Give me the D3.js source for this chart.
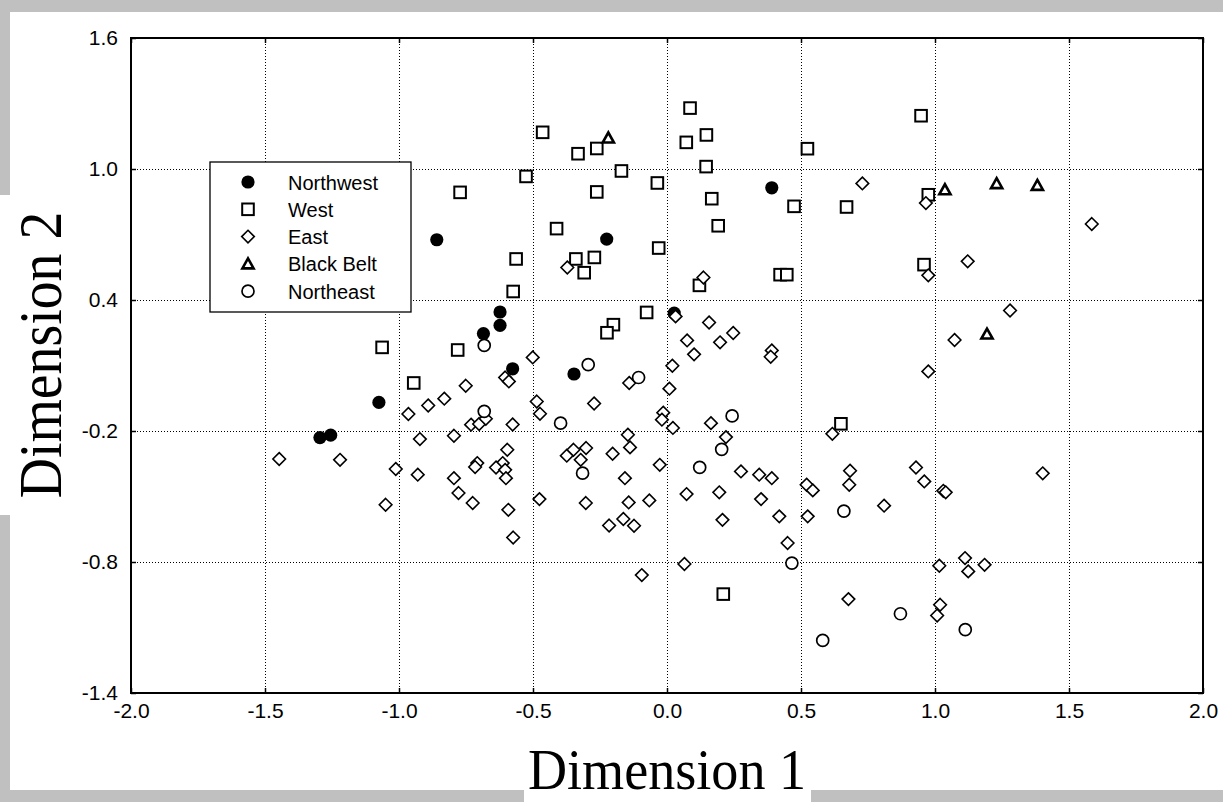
<!DOCTYPE html>
<html><head><meta charset="utf-8">
<script src="https://cdn.jsdelivr.net/npm/d3@7"></script>
<style>html,body{margin:0;padding:0;background:#c0c0c0;overflow:hidden}</style>
</head><body>
<script>
// ---- data ----
const xTicks = [-2.0,-1.5,-1.0,-0.5,0.0,0.5,1.0,1.5,2.0];
const yTicks = [-1.4,-0.8,-0.2,0.4,1.0,1.6];
const groupNames = ["Northwest","West","East","Black Belt","Northeast"];

const northwestX = [-1.295,-1.255,-1.075,-0.859,-0.685,-0.623,-0.623,-0.576,-0.347,-0.225,0.391,0.027];
const northwestY = [-0.230,-0.219,-0.069,0.676,0.246,0.284,0.345,0.085,0.061,0.679,0.914,0.340];

const westX = [-0.464,-0.332,-0.262,-0.526,-0.170,-0.036,-0.262,0.086,0.072,0.147,0.146,0.167,0.191,0.474,0.524,0.670,-0.412,-0.031,
  -0.563,-0.340,-0.271,-0.309,-0.574,-0.076,-0.200,-0.224,0.121,0.422,0.447,0.649,-0.772,0.948,0.975,0.959,-1.063,-0.781,-0.945,0.210];
const westY = [1.168,1.070,1.094,0.966,0.991,0.936,0.895,1.279,1.122,1.156,1.011,0.864,0.740,0.829,1.093,0.826,0.727,0.638,
  0.588,0.588,0.595,0.525,0.439,0.343,0.287,0.250,0.467,0.516,0.516,-0.167,0.893,1.244,0.882,0.562,0.183,0.171,0.020,-0.947];

const eastX = [0.729,0.966,1.585,1.122,0.975,1.280,1.073,0.975,0.929,0.960,1.402,
  -0.751,-0.831,-0.891,-0.965,-0.795,-0.922,-0.731,-0.701,-0.676,-1.447,-1.220,-1.012,-0.930,-0.795,-0.708,-0.716,
  -0.372,0.136,0.032,0.157,0.247,0.075,0.198,0.101,0.391,0.387,-0.501,0.020,-0.604,-0.590,-0.141,0.009,-0.486,-0.474,-0.272,-0.014,-0.019,0.022,0.164,0.220,-0.576,0.617,
  -0.596,-0.613,-0.638,-0.604,-0.601,-0.374,-0.349,-0.302,-0.322,-0.203,-0.146,-0.138,-0.027,-0.157,0.276,0.344,0.391,0.683,
  -0.476,-0.592,-0.574,-0.303,-0.143,-0.066,-0.163,-0.216,-0.123,-0.094,0.073,0.195,0.207,0.351,0.419,0.450,0.065,0.521,0.544,0.525,0.680,0.677,
  1.031,1.040,0.810,1.016,1.112,1.124,1.185,1.019,1.008,
  -1.050,-0.778,-0.725];
const eastY = [0.934,0.844,0.748,0.577,0.513,0.352,0.217,0.073,-0.367,-0.431,-0.394,
  0.007,-0.052,-0.083,-0.122,-0.222,-0.237,-0.171,-0.168,-0.144,-0.328,-0.332,-0.374,-0.400,-0.416,-0.347,-0.365,
  0.549,0.503,0.325,0.297,0.249,0.215,0.206,0.151,0.169,0.140,0.137,0.099,0.045,0.027,0.020,-0.006,-0.065,-0.121,-0.074,-0.116,-0.148,-0.186,-0.164,-0.228,-0.170,-0.213,
  -0.286,-0.347,-0.367,-0.378,-0.416,-0.313,-0.286,-0.278,-0.332,-0.304,-0.217,-0.275,-0.355,-0.416,-0.385,-0.400,-0.416,-0.382,
  -0.512,-0.561,-0.688,-0.530,-0.527,-0.518,-0.603,-0.633,-0.634,-0.860,-0.489,-0.481,-0.607,-0.512,-0.591,-0.713,-0.809,-0.446,-0.472,-0.591,-0.446,-0.970,
  -0.474,-0.481,-0.542,-0.817,-0.782,-0.843,-0.813,-0.996,-1.045,
  -0.538,-0.484,-0.530];

const blackBeltX = [-0.219,1.037,1.230,1.382,1.194];
const blackBeltY = [1.142,0.905,0.933,0.925,0.244];

const northeastX = [-0.682,-0.682,-0.294,-0.106,-0.397,0.243,0.204,0.122,-0.315,0.660,0.466,0.581,0.871,1.113];
const northeastY = [0.192,-0.110,0.104,0.045,-0.164,-0.131,-0.284,-0.367,-0.393,-0.567,-0.805,-1.159,-1.037,-1.110];

// ---- layout ----
const W = 1223, H = 802;
const svg = d3.select("body").append("svg").attr("width", W).attr("height", H)
  .style("display","block");

svg.append("rect").attr("width", W).attr("height", H).attr("fill", "#c0c0c0");
svg.append("rect").attr("x", 10).attr("y", 12).attr("width", W - 10).attr("height", 790 - 12).attr("fill", "#fff");
svg.append("rect").attr("x", 0).attr("y", 195).attr("width", 12).attr("height", 320).attr("fill", "#fff");
svg.append("rect").attr("x", 524).attr("y", 788).attr("width", 287).attr("height", 14).attr("fill", "#fff");

const x = d3.scaleLinear().domain([-2, 2]).range([131, 1203]);
const y = d3.scaleLinear().domain([-1.4, 1.6]).range([693, 38]);
const fmt = v => v.toFixed(1);

// grid
const grid = svg.append("g").attr("stroke", "#000").attr("stroke-width", 1).attr("stroke-dasharray", "1,2");
grid.selectAll("line.gx").data(xTicks.slice(1, -1)).join("line")
  .attr("x1", d => Math.round(x(d)) + 0.5).attr("x2", d => Math.round(x(d)) + 0.5)
  .attr("y1", y(1.6)).attr("y2", y(-1.4));
grid.selectAll("line.gy").data(yTicks.slice(1, -1)).join("line")
  .attr("y1", d => Math.round(y(d)) + 0.5).attr("y2", d => Math.round(y(d)) + 0.5)
  .attr("x1", x(-2)).attr("x2", x(2));

// axes
const axFont = "Liberation Sans, Arial, sans-serif";
const gx = svg.append("g").attr("transform", `translate(0,${y(-1.4)})`)
  .call(d3.axisBottom(x).tickValues(xTicks).tickFormat(fmt).tickSize(-5).tickPadding(10));
const gy = svg.append("g").attr("transform", `translate(${x(-2)},0)`)
  .call(d3.axisLeft(y).tickValues(yTicks).tickFormat(fmt).tickSize(-5).tickPadding(13));
const gt = svg.append("g").attr("transform", `translate(0,${y(1.6)})`)
  .call(d3.axisTop(x).tickValues(xTicks).tickFormat("").tickSize(-5));
const gr = svg.append("g").attr("transform", `translate(${x(2)},0)`)
  .call(d3.axisRight(y).tickValues(yTicks).tickFormat("").tickSize(-5));
[gx, gy, gt, gr].forEach(g => {
  g.select(".domain").remove();
  g.selectAll(".tick line").attr("stroke", "#000").attr("stroke-width", 1.5);
  g.selectAll("text").attr("fill", "#000").style("font-family", axFont).style("font-size", "21px");
});
gx.selectAll("text").attr("dy", "0.71em");

// frame
svg.append("rect").attr("x", x(-2)).attr("y", y(1.6)).attr("width", x(2) - x(-2)).attr("height", y(-1.4) - y(1.6))
  .attr("fill", "none").attr("stroke", "#000").attr("stroke-width", 2);

// markers
function drawMarker(g, type, cx, cy) {
  if (type === 0) {
    g.append("circle").attr("cx", cx).attr("cy", cy).attr("r", 6.6).attr("fill", "#000");
  } else if (type === 1) {
    g.append("rect").attr("x", cx - 5.8).attr("y", cy - 5.8).attr("width", 11.6).attr("height", 11.6)
      .attr("fill", "#fff").attr("stroke", "#000").attr("stroke-width", 2);
  } else if (type === 2) {
    const r = 6.3;
    g.append("path").attr("d", `M${cx},${cy - r}L${cx + r},${cy}L${cx},${cy + r}L${cx - r},${cy}Z`)
      .attr("fill", "#fff").attr("stroke", "#000").attr("stroke-width", 1.6);
  } else if (type === 3) {
    const h = 5.5;
    g.append("path").attr("d", `M${cx},${cy - h}L${cx + 5.6},${cy + 4.5}L${cx - 5.6},${cy + 4.5}Z`)
      .attr("fill", "#fff").attr("stroke", "#000").attr("stroke-width", 2.6).attr("stroke-linejoin", "miter");
  } else {
    g.append("circle").attr("cx", cx).attr("cy", cy).attr("r", 6).attr("fill", "#fff")
      .attr("stroke", "#000").attr("stroke-width", 1.7);
  }
}
const series = [
  [northwestX, northwestY], [westX, westY], [eastX, eastY], [blackBeltX, blackBeltY], [northeastX, northeastY]
];
const pts = svg.append("g");
series.forEach(([xs, ys], t) => {
  const g = pts.append("g").attr("class", "series-" + t);
  xs.forEach((v, i) => drawMarker(g, t, x(v), y(ys[i])));
});

// legend
const lg = svg.append("g");
lg.append("rect").attr("x", 210).attr("y", 162).attr("width", 201).attr("height", 150)
  .attr("fill", "#fff").attr("stroke", "#000").attr("stroke-width", 1.3);
groupNames.forEach((n, i) => {
  const cy = 182 + i * 27.3;
  drawMarker(lg, i, 248, cy);
  lg.append("text").attr("x", 288).attr("y", cy + 7.5).text(n)
    .style("font-family", axFont).style("font-size", "20px").attr("fill", "#000");
});

// axis titles
const serif = "Liberation Serif, Times New Roman, serif";
svg.append("text").attr("transform", "translate(667,789) scale(0.95,1)").attr("text-anchor", "middle")
  .style("font-family", serif).style("font-size", "57px")
  .text("Dimension 1");
svg.append("text").attr("transform", "translate(61,355) rotate(-90) scale(0.9,1)").attr("text-anchor", "middle")
  .style("font-family", serif).style("font-size", "62px")
  .text("Dimension 2");
</script>
</body></html>
